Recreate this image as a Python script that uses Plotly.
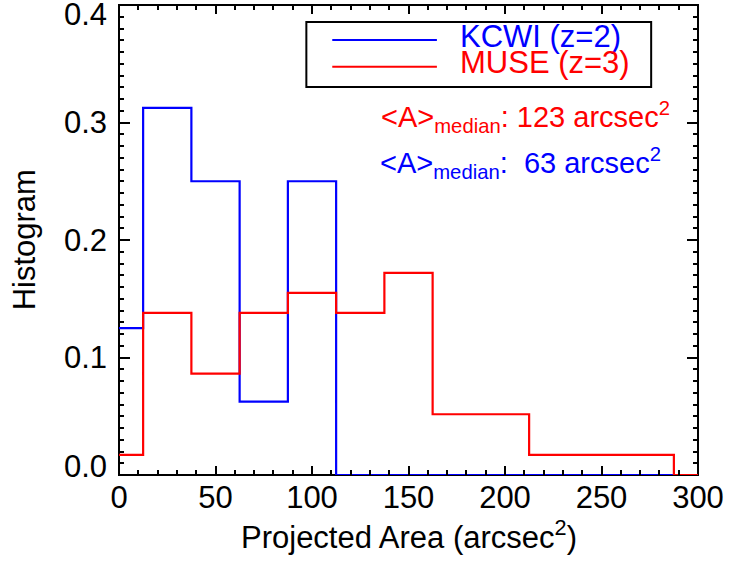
import plotly.graph_objects as go

# ---- data ----
bin_centers = [0, 25, 50, 75, 100, 125, 150, 175, 200, 225, 250, 275, 300]
kcwi_hist = [0.125, 0.3125, 0.25, 0.0625, 0.25, 0, 0, 0, 0, 0, 0, 0, 0]
muse_hist = [0.0172, 0.138, 0.0862, 0.138, 0.155, 0.138, 0.172, 0.0517, 0.0517,
             0.0172, 0.0172, 0.0172, 0]
series_names = ["KCWI (z=2)", "MUSE (z=3)"]
median_labels = ["123", "63"]
y_tick_vals = [0.0, 0.1, 0.2, 0.3, 0.4]
y_tick_text = ["0.0", "0.1", "0.2", "0.3", "0.4"]

BLUE = "rgb(0,0,255)"
RED = "rgb(255,0,0)"
FONT = "Liberation Sans, Arial, Helvetica, sans-serif"
FS = 31

W, H = 729, 561
ML, MR, MT, MB = 119, 29, 5, 86
PW = W - ML - MR
PH = H - MT - MB


def px(xp):
    return (xp - ML) / PW


def py(yp):
    return (MT + PH - yp) / PH


fig = go.Figure()
fig.add_trace(go.Scatter(x=bin_centers, y=kcwi_hist, mode="lines", line_shape="hvh",
                         line=dict(color=BLUE, width=2.2), cliponaxis=False,
                         showlegend=False, hoverinfo="skip"))
fig.add_trace(go.Scatter(x=bin_centers, y=muse_hist, mode="lines", line_shape="hvh",
                         line=dict(color=RED, width=2.2), cliponaxis=False,
                         showlegend=False, hoverinfo="skip"))

fig.update_layout(
    width=W, height=H,
    margin=dict(l=ML, r=MR, t=MT, b=MB, pad=0),
    paper_bgcolor="white", plot_bgcolor="white",
    font=dict(family=FONT, size=FS, color="black"),
    showlegend=False,
)

fig.update_layout(
    xaxis=dict(
        range=[0, 300], tickmode="linear", tick0=0, dtick=50, ticks="inside", ticklen=9,
        tickwidth=2, tickcolor="black", showline=False,
        mirror="allticks", showgrid=False, zeroline=False,
        minor=dict(ticks="inside", ticklen=5, tickwidth=2, tickcolor="black",
                   tickmode="linear", tick0=0, dtick=10, showgrid=False),
        tickfont=dict(size=FS), ticklabelstandoff=1,
    ),
    yaxis=dict(
        range=[0, 0.4], tickmode="linear", tick0=0, dtick=0.1, showticklabels=False,
        ticks="inside", ticklen=11, tickwidth=2, tickcolor="black", showline=False,
        mirror="allticks", showgrid=False, zeroline=False,
        minor=dict(ticks="inside", ticklen=5, tickwidth=2, tickcolor="black",
                   tickmode="linear", tick0=0, dtick=0.01, showgrid=False),
    ),
)

annotations = []
# y tick labels (end labels kept inside the axis range as in the reference)
for v, t in zip(y_tick_vals, y_tick_text):
    shift = 0
    if v == 0.0:
        shift = 8.6
    elif v == 0.4:
        shift = -9.5
    annotations.append(dict(xref="paper", yref="y", x=0, y=v, text=t, showarrow=False,
                            xanchor="right", yanchor="middle", xshift=-10, yshift=shift,
                            font=dict(size=FS)))
# axis titles
annotations.append(dict(xref="paper", yref="paper", x=px(24), y=0.5, text="Histogram",
                        textangle=-90, showarrow=False, xanchor="center",
                        yanchor="middle", font=dict(size=FS)))
annotations.append(dict(xref="paper", yref="paper", x=0.5, y=py(535),
                        text="Projected Area (arcsec<sup>2</sup>)", showarrow=False,
                        xanchor="center", yanchor="middle", font=dict(size=FS)))
# legend texts
annotations.append(dict(xref="paper", yref="paper", x=px(459), y=py(37), text=series_names[0],
                        showarrow=False, xanchor="left", yanchor="middle",
                        font=dict(size=FS, color=BLUE)))
annotations.append(dict(xref="paper", yref="paper", x=px(459), y=py(62), text=series_names[1],
                        showarrow=False, xanchor="left", yanchor="middle",
                        font=dict(size=FS, color=RED)))
# medians
annotations.append(dict(xref="paper", yref="paper", x=px(380), y=py(117),
                        text="&lt;A&gt;<sub>median</sub>: " + median_labels[0] + " arcsec<sup>2</sup>",
                        showarrow=False, xanchor="left", yanchor="middle",
                        font=dict(size=29, color=RED)))
annotations.append(dict(xref="paper", yref="paper", x=px(379), y=py(163),
                        text="&lt;A&gt;<sub>median</sub>:  " + median_labels[1] + " arcsec<sup>2</sup>",
                        showarrow=False, xanchor="left", yanchor="middle",
                        font=dict(size=29, color=BLUE)))
fig.update_layout(annotations=annotations)

shapes = [
    # plot frame, beneath the data lines
    dict(type="rect", xref="paper", yref="paper", x0=0, x1=1, y0=0, y1=1,
         line=dict(color="black", width=2), fillcolor="rgba(0,0,0,0)", layer="below"),
    # legend box
    dict(type="rect", xref="paper", yref="paper", x0=px(307), x1=px(653), y0=py(87), y1=py(22),
         line=dict(color="black", width=2), fillcolor="white", layer="below"),
    dict(type="line", xref="paper", yref="paper", x0=px(333), x1=px(438), y0=py(40), y1=py(40),
         line=dict(color=BLUE, width=2)),
    dict(type="line", xref="paper", yref="paper", x0=px(333), x1=px(438), y0=py(66.7), y1=py(66.7),
         line=dict(color=RED, width=2)),
]
fig.update_layout(shapes=shapes)

fig.write_html("out.html")
